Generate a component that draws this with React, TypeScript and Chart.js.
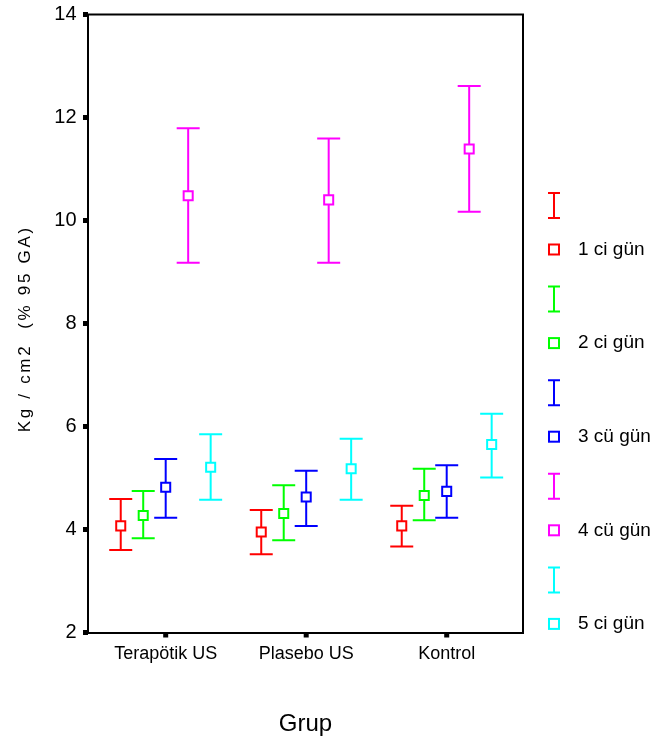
import React, { useEffect, useRef } from 'react';
import { Chart, registerables } from 'chart.js';

Chart.register(...registerables);

// ---- data ----
const groups = ['Terapötik US', 'Plasebo US', 'Kontrol'];
const seriesNames = ['1 ci gün', '2 ci gün', '3 cü gün', '4 cü gün', '5 ci gün'];
const seriesColors = ['#ff0000', '#00ff00', '#0000ff', '#ff00ff', '#00ffff'];

const day1Mean = [4.07, 3.95, 4.07];
const day1Low = [3.6, 3.52, 3.67];
const day1High = [4.59, 4.38, 4.46];

const day2Mean = [4.27, 4.31, 4.66];
const day2Low = [3.83, 3.79, 4.18];
const day2High = [4.75, 4.86, 5.18];

const day3Mean = [4.82, 4.63, 4.74];
const day3Low = [4.23, 4.07, 4.23];
const day3High = [5.37, 5.14, 5.25];

const day4Mean = [10.48, 10.4, 11.39];
const day4Low = [9.18, 9.18, 10.17];
const day4High = [11.79, 11.59, 12.61];

const day5Mean = [5.21, 5.18, 5.65];
const day5Low = [4.58, 4.58, 5.01];
const day5High = [5.85, 5.76, 6.25];

const yTicks = [2, 4, 6, 8, 10, 12, 14];
const yTitle = 'Kg / cm2  (% 95 GA)';
const xTitle = 'Grup';

// layout-only: horizontal dodge of each series within a group
const seriesOffsets = [-0.32, -0.16, 0, 0.16, 0.32];

const means = [day1Mean, day2Mean, day3Mean, day4Mean, day5Mean];
const lows = [day1Low, day2Low, day3Low, day4Low, day5Low];
const highs = [day1High, day2High, day3High, day4High, day5High];

const FONT = '"Liberation Sans", Arial, sans-serif';

const decorPlugin = {
  id: 'decor',
  beforeDatasetsDraw(chart: any) {
    const { ctx, chartArea, scales } = chart;
    const xs = scales.x;
    const ys = scales.y;
    ctx.save();
    // frame top & right
    ctx.strokeStyle = '#000';
    ctx.lineWidth = 2;
    ctx.beginPath();
    ctx.moveTo(chartArea.left, chartArea.top);
    ctx.lineTo(chartArea.right, chartArea.top);
    ctx.lineTo(chartArea.right, chartArea.bottom);
    ctx.stroke();
    // tick squares
    ctx.fillStyle = '#000';
    yTicks.forEach((v) => {
      const py = ys.getPixelForValue(v);
      ctx.fillRect(chartArea.left - 5, py - 2.5, 5, 5);
    });
    groups.forEach((_, g) => {
      const px = xs.getPixelForValue(g + 1);
      ctx.fillRect(px - 2.5, chartArea.bottom, 5, 5);
    });
    // error bars
    ctx.lineWidth = 2;
    means.forEach((m, i) => {
      ctx.strokeStyle = seriesColors[i];
      m.forEach((_, g) => {
        const px = xs.getPixelForValue(g + 1 + seriesOffsets[i]);
        const lo = ys.getPixelForValue(lows[i][g]);
        const hi = ys.getPixelForValue(highs[i][g]);
        ctx.beginPath();
        ctx.moveTo(px, lo);
        ctx.lineTo(px, hi);
        ctx.moveTo(px - 11.5, lo);
        ctx.lineTo(px + 11.5, lo);
        ctx.moveTo(px - 11.5, hi);
        ctx.lineTo(px + 11.5, hi);
        ctx.stroke();
      });
    });
    ctx.restore();
  },
  afterDraw(chart: any) {
    const { ctx, chartArea } = chart;
    ctx.save();
    // y title
    ctx.fillStyle = '#000';
    ctx.font = `17px ${FONT}`;
    (ctx as any).letterSpacing = '2.7px';
    ctx.textAlign = 'center';
    ctx.textBaseline = 'middle';
    ctx.translate(25, 330);
    ctx.rotate(-Math.PI / 2);
    ctx.fillText(yTitle, 1.3, 0);
    ctx.restore();

    ctx.save();
    ctx.fillStyle = '#000';
    ctx.font = `24px ${FONT}`;
    ctx.textAlign = 'center';
    ctx.textBaseline = 'alphabetic';
    ctx.fillText(xTitle, (chartArea.left + chartArea.right) / 2, 731);
    ctx.restore();

    // legend
    ctx.save();
    const lx = 554;
    seriesNames.forEach((name, i) => {
      const cy = 205.5 + i * 93.6;
      ctx.strokeStyle = seriesColors[i];
      ctx.lineWidth = 2;
      ctx.beginPath();
      ctx.moveTo(lx, cy - 12.5);
      ctx.lineTo(lx, cy + 12.5);
      ctx.moveTo(lx - 6, cy - 12.5);
      ctx.lineTo(lx + 6, cy - 12.5);
      ctx.moveTo(lx - 6, cy + 12.5);
      ctx.lineTo(lx + 6, cy + 12.5);
      ctx.stroke();
      const sy = cy + 44;
      ctx.fillStyle = '#fff';
      ctx.fillRect(lx - 5, sy - 5, 10, 10);
      ctx.strokeRect(lx - 5, sy - 5, 10, 10);
      ctx.fillStyle = '#000';
      ctx.font = `19px ${FONT}`;
      ctx.textAlign = 'left';
      ctx.textBaseline = 'middle';
      ctx.fillText(name, 578, sy);
    });
    ctx.restore();
  },
};

export default function App() {
  const ref = useRef<HTMLCanvasElement | null>(null);

  useEffect(() => {
    if (!ref.current) return;
    const datasets = seriesNames.map((name, i) => ({
      label: name,
      data: means[i].map((v, g) => ({ x: g + 1 + seriesOffsets[i], y: v })),
      borderColor: seriesColors[i],
      backgroundColor: '#ffffff',
      pointStyle: 'rect',
      pointRadius: 6.4,
      pointBorderWidth: 2,
      pointHoverRadius: 6.4,
      showLine: false,
    }));

    const chart = new Chart(ref.current, {
      type: 'scatter',
      data: { datasets },
      plugins: [decorPlugin],
      options: {
        responsive: false,
        devicePixelRatio: 1,
        animation: false,
        events: [],
        layout: { padding: { top: 14.5, right: 129, left: 0, bottom: 0 } },
        plugins: {
          legend: { display: false },
          tooltip: { enabled: false },
        },
        scales: {
          x: {
            type: 'linear',
            min: 0.447,
            max: 3.543,
            afterBuildTicks: (s: any) => {
              s.ticks = groups.map((_, g) => ({ value: g + 1 }));
            },
            afterFit: (s: any) => {
              s.height = 109.5;
              s.paddingLeft = 0;
              s.paddingRight = 0;
            },
            ticks: {
              autoSkip: false,
              maxRotation: 0,
              padding: 11,
              color: '#000',
              font: { family: FONT, size: 18 },
              callback: (v: any) => groups[Math.round(v) - 1] ?? '',
            },
            grid: { display: false, drawTicks: false },
            border: { display: true, color: '#000', width: 2 },
          },
          y: {
            type: 'linear',
            min: 2,
            max: 14,
            afterBuildTicks: (s: any) => {
              s.ticks = yTicks.map((v) => ({ value: v }));
            },
            afterFit: (s: any) => {
              s.width = 88;
              s.paddingTop = 0;
              s.paddingBottom = 0;
            },
            ticks: {
              padding: 11.5,
              color: '#000',
              font: { family: FONT, size: 20 },
            },
            grid: { display: false, drawTicks: false },
            border: { display: true, color: '#000', width: 2 },
          },
        },
      },
    } as any);
    return () => chart.destroy();
  }, []);

  return (
    <div style={{ position: 'absolute', left: 0, top: 0, width: 652, height: 742 }}>
      <canvas ref={ref} width={652} height={742} style={{ display: 'block' }} />
    </div>
  );
}
